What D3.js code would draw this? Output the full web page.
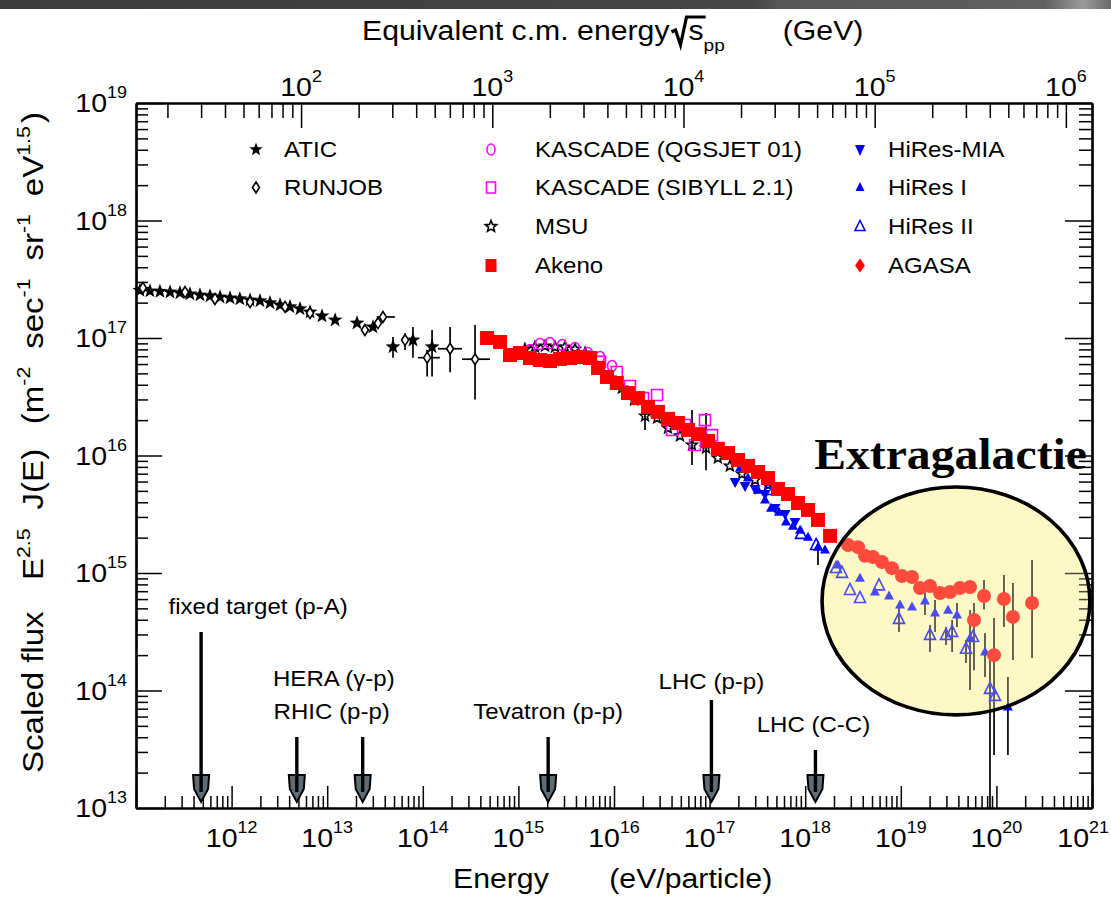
<!DOCTYPE html>
<html>
<head>
<meta charset="utf-8">
<title>Cosmic ray spectrum</title>
<script src="https://d3js.org/d3.v7.min.js"></script>
<style>
  html, body { margin: 0; padding: 0; background: #ffffff; }
  svg { display: block; font-family: "Liberation Sans", Arial, Helvetica, sans-serif; }
</style>
</head>
<body>
<svg id="chart" width="1111" height="898"></svg>
<script>
// Energy in eV, scaled flux E^2.5 J(E) in m^-2 s^-1 sr^-1 eV^1.5
const aticPoints = [
  [1.10e11, 2.54e17], [1.40e11, 2.51e17], [1.78e11, 2.49e17], [2.27e11, 2.46e17],
  [2.88e11, 2.42e17], [3.67e11, 2.37e17], [4.67e11, 2.32e17], [5.94e11, 2.28e17],
  [7.57e11, 2.23e17], [9.62e11, 2.19e17], [1.22e12, 2.15e17], [1.56e12, 2.10e17],
  [1.98e12, 2.07e17], [2.52e12, 1.99e17], [3.21e12, 1.91e17], [4.08e12, 1.84e17],
  [5.19e12, 1.77e17], [6.61e12, 1.66e17], [8.83e12, 1.54e17], [1.21e13, 1.42e17],
  [2.05e13, 1.34e17], [3.01e13, 1.24e17], [4.88e13, 8.4e16], [7.89e13, 9.6e16],
  [1.25e14, 8.4e16]
];
const aticErrors = [[4.88e13, 6.8e16, 1.02e17], [7.89e13, 6.8e16, 1.24e17], [1.25e14, 4.7e16, 1.17e17]];

const runjobPoints = [
  [1.18e11, 2.67e17], [3.26e11, 2.46e17], [6.70e11, 2.15e17], [1.56e12, 2.02e17],
  [3.62e12, 1.84e17], [6.61e12, 1.63e17], [2.48e13, 1.17e17], [3.40e13, 1.34e17],
  [3.83e13, 1.51e17], [6.52e13, 9.6e16], [1.11e14, 6.8e16], [1.93e14, 8.1e16],
  [3.52e14, 6.6e16]
];
const runjobErrors = [
  [1.18e11, 2.45e17, 2.90e17], [6.52e13, 7.9e16, 1.10e17], [1.11e14, 4.7e16, 7.9e16],
  [1.93e14, 5.1e16, 1.24e17], [3.52e14, 3.0e16, 1.29e17]
];
const runjobEnergyErrors = [
  [2.67e17, 1.0e11, 1.4e11], [1.51e17, 3.3e13, 5.1e13], [6.8e16, 8.9e13, 1.51e14],
  [8.1e16, 1.44e14, 2.57e14], [6.6e16, 2.57e14, 5.05e14]
];

const kascadeQgsjetPoints = [
  [1.32e15, 7.91e16], [1.68e15, 8.89e16], [2.14e15, 9.06e16], [2.86e15, 8.71e16],
  [3.91e15, 8.22e16], [5.35e15, 7.45e16], [7.14e15, 6.89e16], [9.53e15, 5.78e16]
];
const kascadeSibyllPoints = [
  [7.14e15, 6.26e16], [1.07e16, 5.14e16], [1.47e16, 3.90e16], [2.01e16, 3.08e16],
  [2.82e16, 3.27e16], [4.05e16, 1.65e16], [5.53e16, 1.82e16], [7.03e16, 1.23e16],
  [8.95e16, 2.00e16], [1.06e17, 1.49e16]
];

const msuPoints = [
  [1.17e15, 8.05e16], [1.49e15, 8.38e16], [1.90e15, 8.55e16], [2.42e15, 8.38e16],
  [3.07e15, 8.38e16], [3.91e15, 8.05e16], [4.98e15, 7.45e16], [6.49e15, 5.89e16],
  [9.08e15, 4.57e16], [1.21e16, 3.75e16], [1.62e16, 2.97e16], [2.11e16, 2.17e16],
  [2.82e16, 2.08e16], [3.67e16, 1.71e16], [4.90e16, 1.47e16], [6.55e16, 1.23e16],
  [9.17e16, 1.16e16], [1.22e17, 9.52e15], [1.63e17, 8.15e15], [2.18e17, 6.97e15],
  [2.99e17, 6.19e15], [4.08e17, 5.61e15]
];
const msuErrors = [[2.11e16, 1.65e16, 2.59e16], [6.55e16, 8.3e15, 2.44e16], [9.17e16, 7.5e15, 2.30e16]];

const akenoPoints = [
  [4.70e14, 1.00e17], [6.43e14, 9.25e16], [8.17e14, 7.17e16], [1.04e15, 7.45e16],
  [1.32e15, 6.76e16], [1.68e15, 6.50e16], [2.14e15, 6.37e16], [2.72e15, 6.63e16],
  [3.47e15, 6.76e16], [4.41e15, 6.89e16], [5.61e15, 6.76e16], [6.81e15, 5.56e16],
  [8.45e15, 4.66e16], [1.07e16, 4.14e16], [1.40e16, 3.40e16], [1.78e16, 3.08e16],
  [2.27e16, 2.59e16], [2.88e16, 2.35e16], [3.67e16, 2.05e16], [4.67e16, 1.89e16],
  [5.94e16, 1.65e16], [7.56e16, 1.52e16], [9.62e16, 1.33e16], [1.22e17, 1.14e16],
  [1.56e17, 1.05e16], [1.98e17, 9.16e15], [2.52e17, 8.15e15], [3.21e17, 7.24e15],
  [4.08e17, 6.44e15], [5.19e17, 5.19e15], [6.61e17, 4.70e15], [8.41e17, 3.94e15],
  [1.07e18, 3.44e15], [1.36e18, 2.83e15], [1.82e18, 2.07e15]
];

const hiresMiaPoints = [
  [1.85e17, 5.94e15], [2.35e17, 5.50e15], [2.99e17, 5.19e15], [3.80e17, 4.70e15],
  [4.83e17, 3.57e15], [6.15e17, 3.18e15], [7.82e17, 2.72e15]
];

const hiresIPoints = [
  [2.08e17, 7.83e15], [2.52e17, 6.44e15], [3.21e17, 5.08e15], [3.80e17, 4.18e15],
  [4.39e17, 3.57e15], [5.32e17, 3.30e15], [6.30e17, 2.72e15], [7.45e17, 2.51e15],
  [8.83e17, 2.32e15], [1.07e18, 2.02e15], [1.36e18, 1.66e15], [1.61e18, 1.57e15],
  [2.20e18, 1.17e15], [3.74e18, 9.06e14], [5.37e18, 6.89e14], [7.53e18, 6.37e14],
  [9.82e18, 5.34e14], [1.31e19, 5.14e14], [1.79e19, 5.78e14], [2.28e19, 4.57e14],
  [3.12e19, 4.84e14], [3.87e19, 4.40e14], [5.30e19, 2.80e14], [7.60e19, 2.13e14],
  [1.32e20, 7.24e13]
];
const hiresIErrors = [
  [1.36e18, 1.17e15, 1.86e15], [1.79e19, 4.40e14, 7.16e14], [2.28e19, 3.15e14, 5.89e14],
  [3.87e19, 3.47e14, 5.56e14], [5.30e19, 1.01e14, 4.84e14], [7.60e19, 1.30e14, 3.08e14],
  [1.32e20, 2.83e13, 1.30e14]
];

const hiresIIPoints = [
  [4.08e17, 5.08e15], [9.04e17, 2.15e15], [1.30e18, 1.73e15], [2.10e18, 1.10e15],
  [2.43e18, 1.00e15], [2.94e18, 7.16e14], [3.74e18, 6.12e14], [5.92e18, 7.83e14],
  [9.57e18, 4.06e14], [2.02e19, 2.97e14], [2.97e19, 2.97e14], [3.44e19, 3.15e14],
  [4.81e19, 2.26e14], [5.69e19, 2.85e14], [8.57e19, 1.03e14], [9.67e19, 8.98e13]
];
const hiresIIErrors = [
  [9.57e18, 3.15e14, 5.03e14], [2.02e19, 2.13e14, 3.61e14], [2.97e19, 2.44e14, 3.47e14],
  [3.44e19, 2.13e14, 3.98e14], [4.81e19, 1.71e14, 2.69e14], [8.57e19, 0, 2.00e14]
];

const agasaPoints = [
  [2.81e18, 1.73e15], [3.57e18, 1.66e15], [4.22e18, 1.40e15], [5.12e18, 1.37e15],
  [6.36e18, 1.24e15], [8.09e18, 1.10e15], [1.03e19, 9.43e14], [1.31e19, 9.25e14],
  [1.59e19, 7.45e14], [2.02e19, 7.74e14], [2.57e19, 6.76e14], [3.27e19, 6.89e14],
  [4.16e19, 7.45e14], [5.30e19, 7.60e14], [5.83e19, 3.98e14], [7.42e19, 6.37e14],
  [9.45e19, 2.00e14], [1.20e20, 6.01e14], [1.49e20, 4.23e14], [2.36e20, 5.56e14]
];
const agasaErrors = [
  [5.83e19, 1.49e14, 5.56e14], [7.42e19, 4.9e14, 8.7e14], [9.45e19, 2.83e13, 4.14e14],
  [1.20e20, 3.47e14, 9.62e14], [1.49e20, 1.82e14, 8.22e14], [2.36e20, 1.89e14, 1.29e15]
];

// Axis tick labels (powers of ten)
const bottomTickExponents = [12, 13, 14, 15, 16, 17, 18, 19, 20, 21];
const topTickExponents = [2, 3, 4, 5, 6];
const leftTickExponents = [13, 14, 15, 16, 17, 18, 19];

// Accelerator reach, in equivalent c.m. energy (GeV)
const acceleratorLabels = ["fixed target (p-A)", "HERA (\u03b3-p)", "RHIC (p-p)", "Tevatron (p-p)", "LHC (p-p)", "LHC (C-C)"];
const acceleratorSqrtS = [30, 95, 210, 1960, 14000, 49000];

// Region highlighted as extragalactic (energy eV, flux bounds)
const extragalacticEnergy = [1.5e18, 9.5e20];
const extragalacticFlux = [6.2e13, 5.4e15];

// ---------------------------------------------------------------------------
const W = 1111, H = 898;
const STRETCH = 1.12;
const plot = { left: 136, right: 1092, top: 103, bottom: 808 };
const svg = d3.select("#chart");

const x = d3.scaleLog().domain([1e11, 1e21]).range([plot.left, plot.right]);
const y = d3.scaleLog().domain([1e13, 1e19]).range([plot.bottom, plot.top]);
const TWO_MP = 1.876; // 2 m_p in GeV
const sqrtS = eV => Math.sqrt(TWO_MP * eV / 1e9);
const xTop = d3.scaleLog().domain([sqrtS(1e11), sqrtS(1e21)]).range([plot.left, plot.right]);

// header band
const defs = svg.append("defs");
const band = defs.append("linearGradient").attr("id", "band").attr("x1", 0).attr("x2", 1).attr("y1", 0).attr("y2", 0);
[[0, "#3b3b3b"], [0.68, "#464646"], [0.7, "#575757"], [0.94, "#606060"], [0.975, "#9a9a9a"], [1, "#6a6a6a"]]
  .forEach(([o, c]) => band.append("stop").attr("offset", o).attr("stop-color", c));
svg.append("rect").attr("x", 0).attr("y", 0).attr("width", W).attr("height", 9).attr("fill", "url(#band)");

// extragalactic region geometry (from the scales)
const ex0 = x(extragalacticEnergy[0]), ex1 = x(extragalacticEnergy[1]);
const ey0 = y(extragalacticFlux[1]), ey1 = y(extragalacticFlux[0]);
const region = { cx: (ex0 + ex1) / 2, cy: (ey0 + ey1) / 2, rx: (ex1 - ex0) / 2, ry: (ey1 - ey0) / 2 };
const REGION_FILL = "#fcf9c6";
svg.append("ellipse").attr("cx", region.cx).attr("cy", region.cy).attr("rx", region.rx).attr("ry", region.ry)
  .attr("fill", REGION_FILL);

function stretchedText(parent, px, py, size, anchor) {
  return parent.append("g")
    .attr("transform", `translate(${px},${py}) scale(${STRETCH},1)`)
    .append("text")
    .attr("font-size", size)
    .attr("text-anchor", anchor || "start")
    .attr("fill", "#000");
}

// ---------------- axes ----------------
const isDecade = v => Math.abs(Math.log10(v) - Math.round(Math.log10(v))) < 1e-6;
const xt = x.ticks(40), yt = y.ticks(40), tt = xTop.ticks(40);
const axes = svg.append("g").attr("class", "axes");

function addAxis(gen, tx, ty, values, size) {
  axes.append("g")
    .attr("class", "axis")
    .attr("transform", `translate(${tx},${ty})`)
    .call(gen.tickValues(values).tickSize(size).tickSizeOuter(0).tickFormat(""));
}
addAxis(d3.axisBottom(x), 0, plot.bottom, xt.filter(v => !isDecade(v)), -12);
addAxis(d3.axisBottom(x), 0, plot.bottom, xt.filter(isDecade), -22);
addAxis(d3.axisTop(xTop), 0, plot.top, tt.filter(v => !isDecade(v)), -15);
addAxis(d3.axisTop(xTop), 0, plot.top, tt.filter(isDecade), -25);
addAxis(d3.axisLeft(y), plot.left, 0, yt.filter(v => !isDecade(v)), -12);
addAxis(d3.axisLeft(y), plot.left, 0, yt.filter(isDecade), -26);
addAxis(d3.axisRight(y), plot.right, 0, yt.filter(v => !isDecade(v)), -13);
addAxis(d3.axisRight(y), plot.right, 0, yt.filter(isDecade), -27);
axes.selectAll(".domain").attr("stroke", "#000").attr("stroke-width", 2.2);
axes.selectAll(".tick line").attr("stroke", "#000").attr("stroke-width", 1.5);

function powerLabel(px, py, exp, anchor) {
  const t = stretchedText(svg, px, py, 25.5, anchor);
  t.append("tspan").text("10");
  t.append("tspan").attr("font-size", 16).attr("dy", -14).text(exp);
  // keep a label that would run past the right edge inside the page
  if (anchor === "middle") {
    const w = t.node().getComputedTextLength() * STRETCH;
    if (px + w / 2 > W - 2) {
      d3.select(t.node().parentNode).attr("transform", `translate(${W - 2 - w / 2},${py}) scale(${STRETCH},1)`);
    }
  }
}
bottomTickExponents.forEach(e => powerLabel(x(Math.pow(10, e)), 847, e, "middle"));
topTickExponents.forEach(e => powerLabel(xTop(Math.pow(10, e)), 96, e, "middle"));
leftTickExponents.forEach(e => powerLabel(plot.left - 9, y(Math.pow(10, e)) + 9, e, "end"));

// ---------------- axis titles ----------------
const titleG = svg.append("g");
const t1 = stretchedText(titleG, 362, 40, 27).text("Equivalent c.m. energy");
const t1End = 362 + t1.node().getComputedTextLength() * STRETCH;
const sX = t1End + 19;
const sTxt = stretchedText(titleG, sX, 40, 27).text("s");
const sEnd = sX + sTxt.node().getComputedTextLength() * STRETCH;
titleG.append("path")
  .attr("d", `M${t1End + 2},32L${t1End + 6},30L${t1End + 11},45L${t1End + 17},17H${sEnd + 2}`)
  .attr("fill", "none").attr("stroke", "#000").attr("stroke-width", 3.2).attr("stroke-linejoin", "miter");
const ppTxt = stretchedText(titleG, sEnd, 51, 17).text("pp");
const ppEnd = sEnd + ppTxt.node().getComputedTextLength() * STRETCH;
stretchedText(titleG, ppEnd + 58, 40, 27).text("(GeV)");

const xTitle = stretchedText(svg, 453, 888, 27);
xTitle.append("tspan").text("Energy");
xTitle.append("tspan").attr("dx", 54).text("(eV/particle)");

const yTitle = svg.append("g").attr("transform", `translate(43,773) rotate(-90) scale(${STRETCH},1)`)
  .append("text").attr("font-size", 29.5).attr("fill", "#000");
yTitle.append("tspan").text("Scaled flux");
yTitle.append("tspan").attr("dx", 28).text("E");
yTitle.append("tspan").attr("font-size", 19).attr("dy", -13).text("2.5");
yTitle.append("tspan").attr("dx", 17).attr("dy", 13).text("J(E)");
yTitle.append("tspan").attr("dx", 22).text("(m");
yTitle.append("tspan").attr("font-size", 19).attr("dy", -13).text("-2");
yTitle.append("tspan").attr("dx", 16).attr("dy", 13).text("sec");
yTitle.append("tspan").attr("font-size", 19).attr("dy", -13).text("-1");
yTitle.append("tspan").attr("dx", 16).attr("dy", 13).text("sr");
yTitle.append("tspan").attr("font-size", 19).attr("dy", -13).text("-1");
yTitle.append("tspan").attr("dx", 16).attr("dy", 13).text("eV");
yTitle.append("tspan").attr("font-size", 19).attr("dy", -13).text("1.5");
yTitle.append("tspan").attr("dx", 3).attr("dy", 13).text(")");

// ---------------- marker shapes ----------------
const shapes = {
  star: (R, r) => {
    let p = "";
    for (let i = 0; i < 10; i++) {
      const a = -Math.PI / 2 + i * Math.PI / 5, rad = i % 2 ? r : R;
      p += (i ? "L" : "M") + (rad * Math.cos(a)).toFixed(2) + "," + (rad * Math.sin(a)).toFixed(2);
    }
    return p + "Z";
  },
  diamond: (w, h) => `M0,${-h / 2}L${w / 2},0L0,${h / 2}L${-w / 2},0Z`,
  rect: (w, h) => `M${-w / 2},${-h / 2}h${w}v${h}h${-w}Z`,
  triUp: (w, h) => `M0,${-h * 0.6}L${w / 2},${h * 0.4}L${-w / 2},${h * 0.4}Z`,
  triDown: (w, h) => `M0,${h * 0.6}L${w / 2},${-h * 0.4}L${-w / 2},${-h * 0.4}Z`,
  ellipse: (w, h) => `M${-w / 2},0a${w / 2},${h / 2} 0 1,0 ${w},0a${w / 2},${h / 2} 0 1,0 ${-w},0Z`
};

// drawing order: first entry is drawn first
const series = [
  { name: "MSU", pts: msuPoints, err: msuErrors, shape: shapes.star(5.5, 2.4), lshape: shapes.star(6, 2.6), fill: "none", lfill: "#fff", stroke: "#000", col: 1, row: 2 },
  { name: "KASCADE (SIBYLL 2.1)", pts: kascadeSibyllPoints, shape: shapes.rect(11, 11), lshape: shapes.rect(9, 11), fill: "none", stroke: "#ff00ff", col: 1, row: 1 },
  { name: "KASCADE (QGSJET 01)", pts: kascadeQgsjetPoints, shape: shapes.ellipse(9, 11), lshape: shapes.ellipse(8, 11), fill: "none", stroke: "#ff00ff", col: 1, row: 0 },
  { name: "HiRes-MIA", pts: hiresMiaPoints, shape: shapes.triDown(11, 10), lshape: shapes.triDown(10, 11), fill: "#0000ff", stroke: "none", col: 2, row: 0 },
  { name: "HiRes I", pts: hiresIPoints, err: hiresIErrors, shape: shapes.triUp(10, 9), lshape: shapes.triUp(9, 9), fill: "#0000ff", stroke: "none", col: 2, row: 1 },
  { name: "HiRes II", pts: hiresIIPoints, err: hiresIIErrors, shape: shapes.triUp(11, 11), lshape: shapes.triUp(10, 10), fill: "none", stroke: "#0000ff", col: 2, row: 2 },
  { name: "Akeno", pts: akenoPoints, shape: shapes.rect(14, 14), lshape: shapes.rect(11, 13), fill: "#ff0000", stroke: "none", col: 1, row: 3 },
  { name: "AGASA", pts: agasaPoints, err: agasaErrors, shape: shapes.ellipse(14, 14), lshape: shapes.diamond(10, 14), fill: "#ff0000", stroke: "none", col: 2, row: 3 },
  { name: "ATIC", pts: aticPoints, err: aticErrors, shape: shapes.star(7.8, 3.2), lshape: shapes.star(7, 2.9), fill: "#000", stroke: "none", col: 0, row: 0 },
  { name: "RUNJOB", pts: runjobPoints, err: runjobErrors, herr: runjobEnergyErrors, shape: shapes.diamond(7, 11), lshape: shapes.diamond(7, 11), fill: "#fff", stroke: "#000", col: 0, row: 1 }
];

// ---------------- error bars ----------------
const bars = svg.append("g").attr("class", "errors").attr("stroke", "#000").attr("stroke-width", 1.7);
const yClamp = f => (f > 0 ? y(f) : plot.bottom);
series.forEach(s => {
  (s.err || []).forEach(([e, lo, hi]) => {
    bars.append("line").attr("x1", x(e)).attr("x2", x(e)).attr("y1", yClamp(lo)).attr("y2", y(hi));
  });
  (s.herr || []).forEach(([f, lo, hi]) => {
    bars.append("line").attr("x1", x(lo)).attr("x2", x(hi)).attr("y1", y(f)).attr("y2", y(f));
  });
});

// ---------------- markers ----------------
series.forEach(s => {
  svg.append("g").attr("class", "series")
    .selectAll("path").data(s.pts).join("path")
    .attr("transform", d => `translate(${x(d[0])},${y(d[1])})`)
    .attr("d", s.shape)
    .attr("fill", s.fill)
    .attr("stroke", s.stroke)
    .attr("stroke-width", 1.6);
});

// ---------------- legend ----------------
const legendMarkerX = [256, 491, 860];
const legendTextX = [284, 535, 888];
const legendBaseline = [157, 195, 234, 273];
const legend = svg.append("g").attr("class", "legend");
series.forEach(s => {
  legend.append("path")
    .attr("transform", `translate(${legendMarkerX[s.col]},${legendBaseline[s.row] - 7.5})`)
    .attr("d", s.lshape).attr("fill", s.lfill || s.fill).attr("stroke", s.stroke).attr("stroke-width", 1.6);
  stretchedText(legend, legendTextX[s.col], legendBaseline[s.row], 21.5).text(s.name);
});

// ---------------- accelerator arrows ----------------
const annotationLayout = [
  { dx: 57, labelY: 614, shaftTop: 632 },
  { dx: 37, labelY: 686, shaftTop: 737 },
  { dx: -31, labelY: 719, shaftTop: 737 },
  { dx: 0, labelY: 719, shaftTop: 737 },
  { dx: 0, labelY: 689, shaftTop: 700 },
  { dx: -2, labelY: 732, shaftTop: 750 }
];
const arrows = svg.append("g").attr("class", "accelerators");
acceleratorSqrtS.forEach((rs, i) => {
  const ax = xTop(rs), L = annotationLayout[i];
  stretchedText(arrows, ax + L.dx, L.labelY, 21.5, "middle").text(acceleratorLabels[i]);
  arrows.append("path")
    .attr("transform", `translate(${ax},802)`)
    .attr("d", "M-8,-27L8,-27L7,-13L0,0L-7,-13Z")
    .attr("fill", "#5e6c76").attr("stroke", "#000").attr("stroke-width", 2);
  arrows.append("line")
    .attr("x1", ax).attr("x2", ax).attr("y1", L.shaftTop).attr("y2", 792)
    .attr("stroke", "#000").attr("stroke-width", 3.4);
});

// ---------------- extragalactic region: translucent veil + outline ----------------
svg.append("ellipse")
  .attr("cx", region.cx).attr("cy", region.cy).attr("rx", region.rx).attr("ry", region.ry)
  .attr("fill", REGION_FILL).attr("fill-opacity", 0.3)
  .attr("stroke", "#000").attr("stroke-width", 3.6);

svg.append("g")
  .attr("transform", `translate(${x(1.24e18)},${y(7.7e15)}) scale(1.06,1)`)
  .append("text")
  .attr("font-family", "'Liberation Serif', 'Times New Roman', serif")
  .attr("font-weight", "bold").attr("font-size", 45).attr("fill", "#000")
  .text("Extragalactie");
</script>
</body>
</html>
